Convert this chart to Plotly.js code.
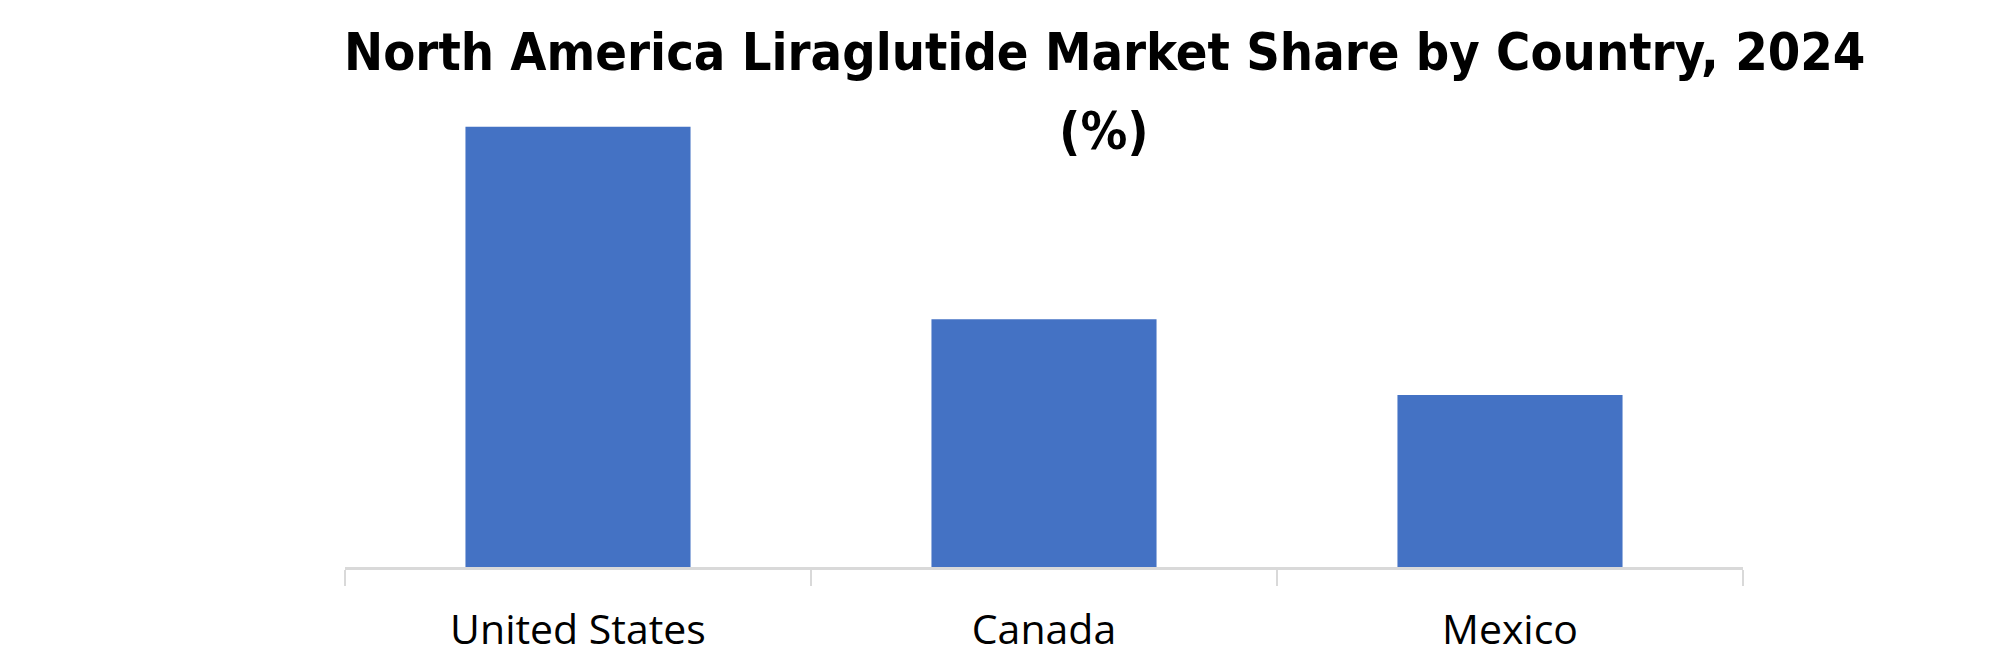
<!DOCTYPE html>
<html>
<head>
<meta charset="utf-8">
<script src="https://cdn.plot.ly/plotly-3.0.1.min.js"></script>
<style>html,body{margin:0;padding:0;background:#fff;}#chart{width:2005px;height:671px;}</style>
</head>
<body>
<div id="chart"></div>
<script>
var countries = ["United States", "Canada", "Mexico"];
var shares = [51.2, 28.8, 20.0];
var titleLines = ["North America Liraglutide Market Share by Country, 2024", "(%)"];

var trace = {
  type: "bar",
  x: countries,
  y: shares,
  marker: {color: "#4472C4"},
  hoverinfo: "x+y"
};

var titleFont = {family: "DejaVu Sans Condensed, Liberation Sans Narrow, sans-serif", size: 52, color: "#000000"};

var layout = {
  width: 2005,
  height: 671,
  paper_bgcolor: "#ffffff",
  plot_bgcolor: "#ffffff",
  margin: {l: 345, r: 262, t: 100, b: 104, pad: 0},
  bargap: 0.517,
  showlegend: false,
  annotations: [
    {text: "<b>" + titleLines[0] + "</b>", xref: "paper", yref: "paper", x: 0.543, y: 1.1028,
     xanchor: "center", yanchor: "middle", showarrow: false, font: titleFont},
    {text: "<b>" + titleLines[1] + "</b>", xref: "paper", yref: "paper", x: 0.543, y: 0.9336,
     xanchor: "center", yanchor: "middle", showarrow: false, font: titleFont}
  ],
  xaxis: {
    type: "category",
    showline: true,
    linecolor: "#d9d9d9",
    linewidth: 2.5,
    ticks: "outside",
    tickson: "boundaries",
    ticklen: 16,
    tickwidth: 2.5,
    tickcolor: "#d9d9d9",
    ticklabelstandoff: 25,
    showgrid: false,
    zeroline: false,
    tickfont: {family: "Open Sans, sans-serif", size: 41, color: "#000000"}
  },
  yaxis: {
    range: [0, 54.3],
    visible: false,
    showgrid: false,
    zeroline: false
  }
};

Plotly.newPlot("chart", [trace], layout, {displayModeBar: false, staticPlot: true});
</script>
</body>
</html>
